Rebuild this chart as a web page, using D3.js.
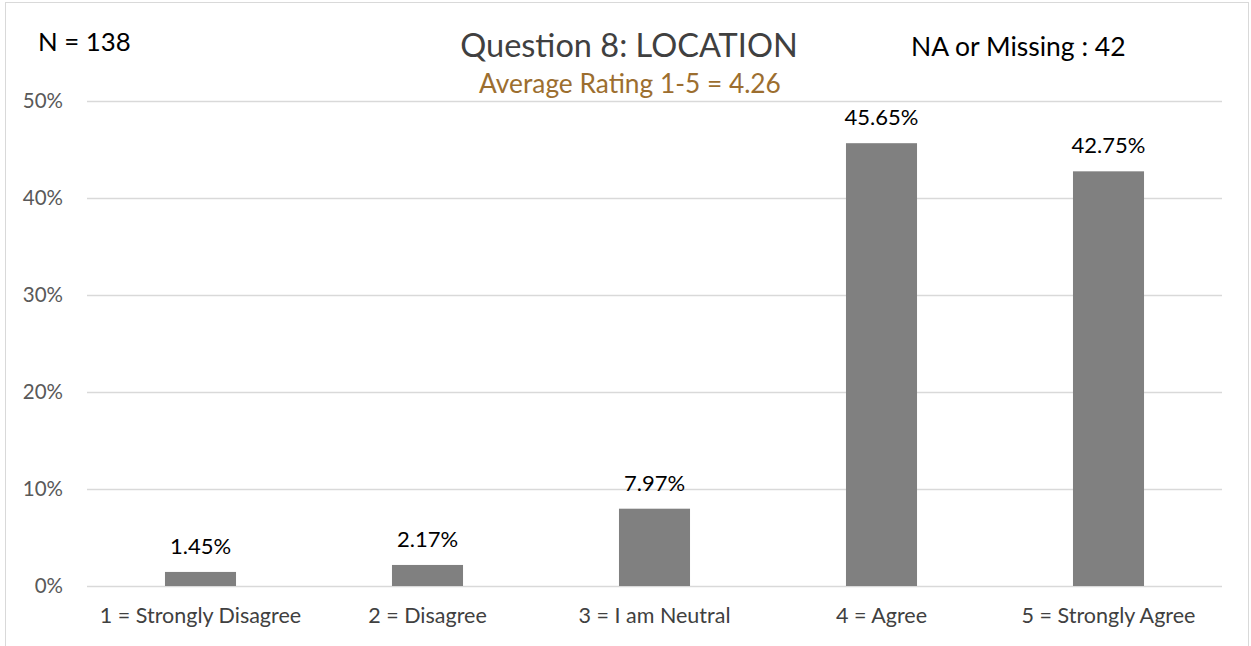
<!DOCTYPE html>
<html><head><meta charset="utf-8">
<script src="https://cdn.jsdelivr.net/npm/d3@7"></script>
<style>body{margin:0;background:#fff;} text{font-family:Lato,"Open Sans",sans-serif;}</style>
</head><body><svg id="c" width="1251" height="646"></svg>
<script>
const categories = ["1 = Strongly Disagree","2 = Disagree","3 = I am Neutral","4 = Agree","5 = Strongly Agree"];
const values = [1.45, 2.17, 7.97, 45.65, 42.75];
const yTicks = [0,10,20,30,40,50];
const titleText = "Question 8: LOCATION";
const subtitleText = "Average Rating 1-5 = 4.26";
const nText = "N = 138";
const naText = "NA or Missing : 42";

const svg = d3.select("#c");
svg.append("rect").attr("x",5.5).attr("y",2.5).attr("width",1243).attr("height",660)
  .attr("fill","#fff").attr("stroke","#d9d9d9");
const m = {l:87, r:1222, t:101, b:586};
const x = d3.scaleBand().domain(categories).range([m.l,m.r]).paddingInner(0.687).paddingOuter(0.3435);
const y = d3.scaleLinear().domain([0,50]).range([m.b,m.t]);

const gy = svg.append("g").attr("transform",`translate(${m.l},0)`)
  .call(d3.axisLeft(y).tickValues(yTicks).tickSize(-(m.r-m.l)).tickFormat(d=>d+"%").tickPadding(24));
gy.select(".domain").remove();
gy.selectAll(".tick line").attr("stroke","#d9d9d9").attr("stroke-width",1.5);
gy.selectAll(".tick text").attr("fill","#595959").style("font-size","20.5px");

svg.selectAll("rect.bar").data(values).join("rect").attr("class","bar")
  .attr("x",(d,i)=>x(categories[i])).attr("width",x.bandwidth())
  .attr("y",d=>y(d)).attr("height",d=>y(0)-y(d)).attr("fill","#808080");

svg.selectAll("text.lbl").data(values).join("text").attr("class","lbl")
  .attr("x",(d,i)=>x(categories[i])+x.bandwidth()/2).attr("y",d=>y(d)-18)
  .attr("text-anchor","middle").attr("fill","#000").style("font-size","22px")
  .text(d=>d.toFixed(2)+"%");

const gx = svg.append("g").attr("transform",`translate(0,${m.b})`)
  .call(d3.axisBottom(x).tickSize(0).tickPadding(22));
gx.select(".domain").remove();
gx.selectAll(".tick text").attr("fill","#404040").style("font-size","21.5px");

svg.append("text").attr("x",629).attr("y",57).attr("text-anchor","middle")
  .attr("fill","#404040").style("font-size","32.5px").text(titleText);
svg.append("text").attr("x",630).attr("y",93).attr("text-anchor","middle")
  .attr("fill","#9c6e2f").style("font-size","26.3px").text(subtitleText);
svg.append("text").attr("x",38).attr("y",51).attr("fill","#000").style("font-size","25.8px").text(nText);
svg.append("text").attr("x",911).attr("y",56).attr("fill","#000").style("font-size","26.5px").text(naText);
</script></body></html>
